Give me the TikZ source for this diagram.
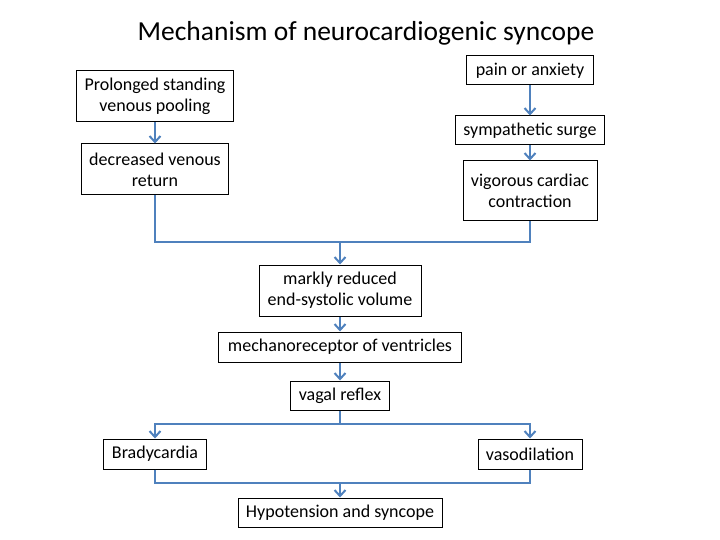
\documentclass[tikz,border=0pt]{standalone}
\usepackage{fontspec}
\setmainfont{Carlito}
\usetikzlibrary{arrows.meta}
\definecolor{flowblue}{RGB}{79,129,189}
\tikzset{
  box/.style={draw=black, line width=1pt, inner sep=0pt, align=center,
    font=\fontsize{18}{21}\selectfont},
  link/.style={draw=flowblue, line width=2pt},
  arr/.style={link, -{Straight Barb[length=6pt,width=11pt,line width=2pt]}}
}
\begin{document}
\begin{tikzpicture}[x=1pt,y=-1pt]
\useasboundingbox (0,0) rectangle (720,540);
\node[anchor=base, font=\fontsize{27.5}{32}\selectfont] (title) at (366,41) {Mechanism of neurocardiogenic syncope};

\node[box, minimum width=157pt, minimum height=51pt] (b1) at (155,96.5) {Prolonged standing\\venous pooling};
\node[box, minimum width=147pt, minimum height=51pt] (b2) at (155,169.5) {decreased venous\\return};

\node[box, minimum width=127pt, minimum height=29pt] (r1) at (530,70.5) {pain or anxiety};
\node[box, minimum width=149pt, minimum height=29pt] (r2) at (530,130.5) {sympathetic surge};
\node[box, minimum width=134pt, minimum height=60pt] (r3) at (530,191) {vigorous cardiac\\contraction};

\node[box, minimum width=162pt, minimum height=51pt] (m1) at (340,290.5) {markly reduced\\end-systolic volume};
\node[box, minimum width=243pt, minimum height=30pt] (m2) at (340,347) {mechanoreceptor of ventricles};
\node[box, minimum width=99pt, minimum height=29pt] (m3) at (340,395.5) {vagal reflex};

\node[box, minimum width=103pt, minimum height=30pt] (br) at (155,454) {Bradycardia};
\node[box, minimum width=104pt, minimum height=30pt] (va) at (530,454) {vasodilation};
\node[box, minimum width=204pt, minimum height=29pt] (hy) at (340,512.5) {Hypotension and syncope};

\coordinate (j1) at (340,242);
\coordinate (j2) at (340,424);
\coordinate (j3) at (340,483);

\draw[arr] (b1) -- (b2);
\draw[arr] (r1) -- (r2);
\draw[arr] (r2) -- (r3);
\draw[link] (b2.south) |- (j1);
\draw[link] (r3.south) |- (j1);
\draw[arr] (j1) -- (m1.north);
\draw[arr] (m1) -- (m2);
\draw[arr] (m2) -- (m3);
\draw[link] (m3.south) -- (j2);
\draw[arr] (j2) -| (br.north);
\draw[arr] (j2) -| (va.north);
\draw[link] (br.south) |- (j3);
\draw[link] (va.south) |- (j3);
\draw[arr] (j3) -- (hy.north);
\end{tikzpicture}
\end{document}
